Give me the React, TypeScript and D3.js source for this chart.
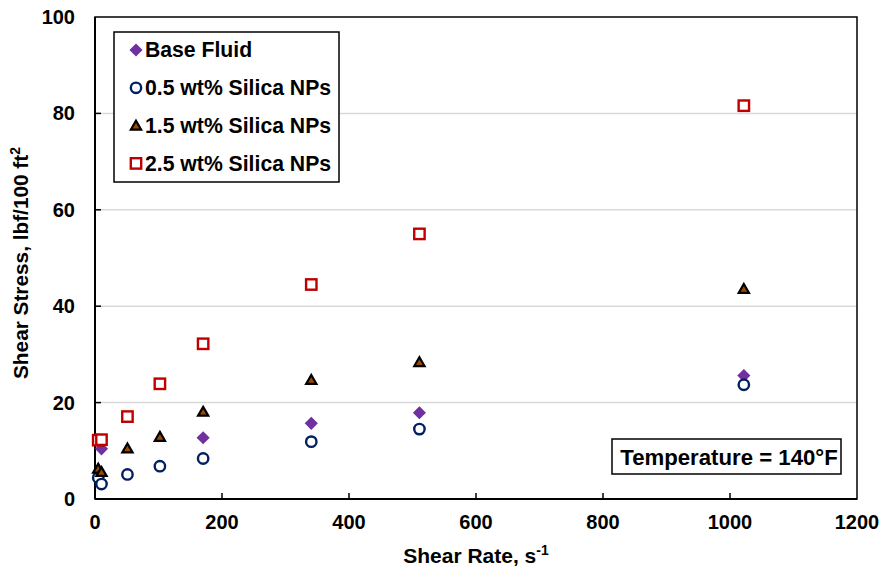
import React from "react";
import * as d3 from "d3";

const shearRate = [5.11, 10.22, 51.1, 102.2, 170.3, 340.6, 510.9, 1021.8];
const baseFluid: (number | null)[] = [12.0, 10.4, null, null, 12.7, 15.7, 17.9, 25.6];
const silica05 = [4.4, 3.1, 5.1, 6.8, 8.4, 11.9, 14.5, 23.7];
const silica15 = [6.3, 5.6, 10.5, 12.9, 18.1, 24.7, 28.4, 43.6];
const silica25 = [12.2, 12.3, 17.1, 23.9, 32.2, 44.5, 55.0, 81.6];

const xTicks = [0, 200, 400, 600, 800, 1000, 1200];
const yTicks = [0, 20, 40, 60, 80, 100];
const legendLabels = ["Base Fluid", "0.5 wt% Silica NPs", "1.5 wt% Silica NPs", "2.5 wt% Silica NPs"];

const W = 884;
const H = 568;
const L = 95, R = 857, T = 17, B = 499;
const FONT = "'Liberation Sans', Arial, sans-serif";

const x = d3.scaleLinear().domain([0, 1200]).range([L, R]);
const y = d3.scaleLinear().domain([0, 100]).range([B, T]);

const diamondPath = d3.symbol().type(d3.symbolDiamond2).size(110)() as string;
const trianglePath = d3.symbol().type(d3.symbolTriangle2).size(75)() as string;

function Marker({ kind, cx, cy }: { kind: number; cx: number; cy: number }) {
  if (kind === 0)
    return <path d={diamondPath} transform={`translate(${cx},${cy})`} fill="#7030A0" />;
  if (kind === 1)
    return <circle cx={cx} cy={cy} r={5.2} fill="#fff" stroke="#002060" strokeWidth={2.4} />;
  if (kind === 2)
    return (
      <path d={trianglePath} transform={`translate(${cx},${cy + 1})`} fill="#9C4A00" stroke="#000" strokeWidth={2.2} strokeLinejoin="miter" />
    );
  return <rect x={cx - 5.2} y={cy - 5.2} width={10.4} height={10.4} fill="#fff" stroke="#C00000" strokeWidth={2.4} />;
}

export default function App() {
  const series = [baseFluid, silica05, silica15, silica25];
  return (
    <div style={{ position: "absolute", left: 0, top: 0 }}>
      <svg width={W} height={H} style={{ display: "block", background: "#fff" }} fontFamily={FONT}>
        {/* gridlines */}
        {yTicks.filter((t) => t > 0 && t < 100).map((t) => (
          <line key={t} x1={L} x2={R} y1={y(t)} y2={y(t)} stroke="#D9D9D9" strokeWidth={1.5} />
        ))}
        {/* frame */}
        <rect x={L} y={T} width={R - L} height={B - T} fill="none" stroke="#000" strokeWidth={1.5} />
        <line x1={L} x2={L} y1={T} y2={B} stroke="#000" strokeWidth={2} />
        <line x1={L} x2={R} y1={B} y2={B} stroke="#000" strokeWidth={2} />
        {/* ticks */}
        {xTicks.filter((t) => t > 0 && t < 1200).map((t) => (
          <line key={t} x1={x(t)} x2={x(t)} y1={B} y2={B - 6} stroke="#000" strokeWidth={1.5} />
        ))}
        {yTicks.filter((t) => t > 0 && t < 100).map((t) => (
          <line key={t} x1={L} x2={L + 6} y1={y(t)} y2={y(t)} stroke="#000" strokeWidth={1.5} />
        ))}
        {/* tick labels */}
        {xTicks.map((t) => (
          <text key={t} x={x(t)} y={B + 30} textAnchor="middle" fontSize={20} fontWeight="bold" fill="#000">
            {t}
          </text>
        ))}
        {yTicks.map((t) => (
          <text key={t} x={L - 20} y={y(t)} dy="0.35em" textAnchor="end" fontSize={20} fontWeight="bold" fill="#000">
            {t}
          </text>
        ))}
        {/* axis titles */}
        <text x={(L + R) / 2} y={563} textAnchor="middle" fontSize={21} fontWeight="bold" fill="#000">
          Shear Rate, s<tspan fontSize={14} dy={-8}>-1</tspan>
        </text>
        <text
          transform={`translate(28,${(T + B) / 2 + 5}) rotate(-90)`}
          textAnchor="middle"
          fontSize={20.8}
          fontWeight="bold"
          fill="#000"
        >
          Shear Stress, lbf/100 ft<tspan fontSize={14} dy={-8}>2</tspan>
        </text>
        {/* markers */}
        {series.map((vals, si) => (
          <g key={si}>
            {vals.map((v, i) =>
              v == null ? null : <Marker key={i} kind={si} cx={x(shearRate[i])} cy={y(v)} />
            )}
          </g>
        ))}
        {/* legend */}
        <rect x={114} y={32} width={225} height={150} fill="#fff" stroke="#000" strokeWidth={1.5} />
        {legendLabels.map((lab, i) => {
          const cy = 50 + i * 37.8;
          return (
            <g key={lab}>
              <Marker kind={i} cx={136} cy={cy} />
              <text x={145} y={cy} dy="0.35em" fontSize={21.2} fontWeight="bold" fill="#000">
                {lab}
              </text>
            </g>
          );
        })}
        {/* temperature box */}
        <rect x={612} y={439} width={229} height={35} fill="#fff" stroke="#000" strokeWidth={1.5} />
        <text x={729} y={457} dy="0.35em" textAnchor="middle" fontSize={22.2} fontWeight="bold" fill="#000">
          Temperature = 140°F
        </text>
      </svg>
    </div>
  );
}
